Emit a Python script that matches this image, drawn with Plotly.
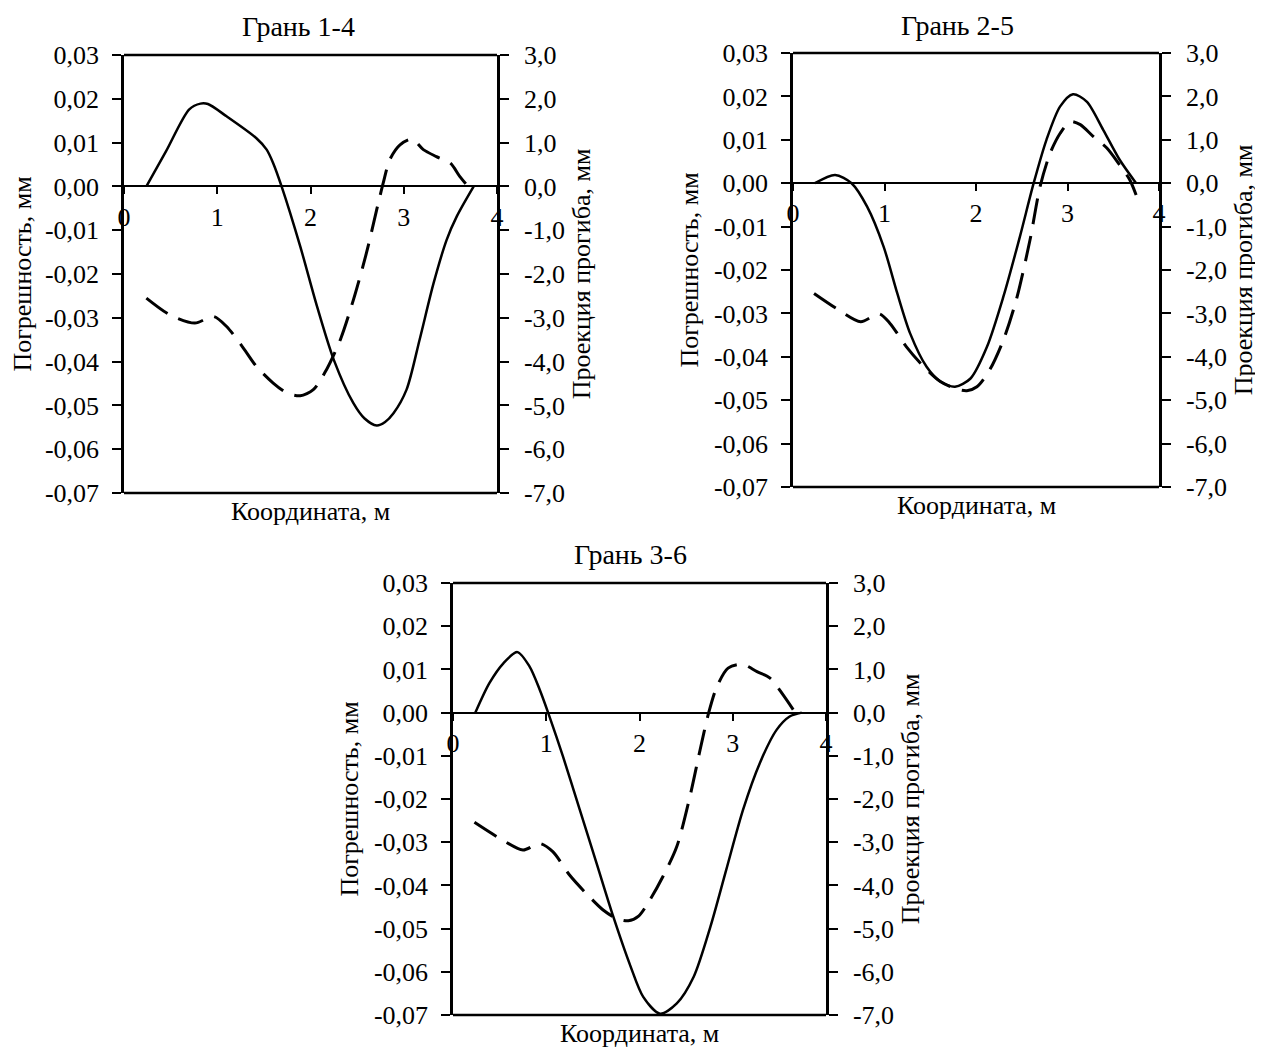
import plotly.graph_objects as go

# ---------------- data ----------------
panel_titles = ["Грань 1-4", "Грань 2-5", "Грань 3-6"]
x_title = "Координата, м"
y_left_title = "Погрешность, мм"
y_right_title = "Проекция прогиба, мм"

x_ticks = [0, 1, 2, 3, 4]
left_tickvals = [0.03, 0.02, 0.01, 0.0, -0.01, -0.02, -0.03, -0.04, -0.05, -0.06, -0.07]
left_ticktext = ["0,03", "0,02", "0,01", "0,00", "-0,01", "-0,02", "-0,03", "-0,04", "-0,05", "-0,06", "-0,07"]
right_tickvals = [3, 2, 1, 0, -1, -2, -3, -4, -5, -6, -7]
right_ticktext = ["3,0", "2,0", "1,0", "0,0", "-1,0", "-2,0", "-3,0", "-4,0", "-5,0", "-6,0", "-7,0"]

# Panel 1 (Грань 1-4)
p1_err_x = [0.24, 0.45, 0.70, 0.82, 0.90, 1.10, 1.42, 1.53, 1.60, 1.69, 1.89, 2.07, 2.25, 2.46, 2.58, 2.71, 2.80, 2.89, 3.03, 3.17, 3.32, 3.46, 3.57, 3.75]
p1_err_y = [0.0, 0.0080, 0.0176, 0.0189, 0.0188, 0.0160, 0.0110, 0.0084, 0.0053, 0.0, -0.0137, -0.0274, -0.0396, -0.0495, -0.0530, -0.0546, -0.0538, -0.0518, -0.0464, -0.0350, -0.0221, -0.0122, -0.0068, 0.0]
p1_defl_x = [0.24, 0.49, 0.76, 0.96, 1.10, 1.28, 1.42, 1.60, 1.75, 1.89, 2.03, 2.17, 2.32, 2.46, 2.60, 2.71, 2.78, 2.85, 2.96, 3.09, 3.21, 3.35, 3.50, 3.60, 3.69]
p1_defl_y = [-2.55, -2.93, -3.12, -2.97, -3.20, -3.69, -4.11, -4.49, -4.72, -4.78, -4.64, -4.19, -3.50, -2.59, -1.52, -0.53, 0.08, 0.61, 0.95, 1.08, 0.84, 0.68, 0.53, 0.23, 0.0]

# Panel 2 (Грань 2-5)
p2_err_x = [0.24, 0.46, 0.64, 0.81, 0.99, 1.14, 1.28, 1.46, 1.61, 1.77, 1.94, 2.12, 2.30, 2.48, 2.63, 2.77, 2.92, 3.06, 3.21, 3.39, 3.57, 3.75]
p2_err_y = [0.0, 0.0019, 0.0, -0.0054, -0.0146, -0.0254, -0.0346, -0.0423, -0.0457, -0.0469, -0.0450, -0.0377, -0.0261, -0.0123, 0.0, 0.0100, 0.0177, 0.0205, 0.0188, 0.0123, 0.0054, 0.0]
p2_defl_x = [0.23, 0.50, 0.74, 0.94, 1.06, 1.24, 1.43, 1.61, 1.77, 1.90, 2.01, 2.15, 2.30, 2.44, 2.59, 2.70, 2.81, 2.92, 3.03, 3.14, 3.28, 3.43, 3.57, 3.68, 3.75]
p2_defl_y = [-2.54, -2.92, -3.19, -3.01, -3.23, -3.77, -4.23, -4.57, -4.73, -4.78, -4.69, -4.30, -3.61, -2.69, -1.31, -0.08, 0.69, 1.15, 1.42, 1.35, 1.08, 0.81, 0.42, 0.08, -0.27]

# Panel 3 (Грань 3-6)
p3_err_x = [0.24, 0.39, 0.54, 0.69, 0.82, 0.93, 1.02, 1.18, 1.36, 1.54, 1.72, 1.90, 2.04, 2.22, 2.40, 2.58, 2.76, 2.93, 3.11, 3.29, 3.47, 3.61, 3.74]
p3_err_y = [0.0, 0.0068, 0.0114, 0.0140, 0.0107, 0.0053, 0.0, -0.0102, -0.0225, -0.0349, -0.0473, -0.0585, -0.0658, -0.0697, -0.0673, -0.0612, -0.0496, -0.0364, -0.0225, -0.0117, -0.0040, -0.0009, 0.0]
p3_defl_x = [0.23, 0.50, 0.75, 0.93, 1.07, 1.25, 1.43, 1.61, 1.75, 1.88, 1.99, 2.11, 2.25, 2.40, 2.54, 2.65, 2.74, 2.83, 2.95, 3.10, 3.26, 3.40, 3.54, 3.67]
p3_defl_y = [-2.54, -2.91, -3.18, -3.03, -3.22, -3.76, -4.19, -4.57, -4.76, -4.82, -4.71, -4.34, -3.80, -3.10, -1.95, -0.86, -0.02, 0.60, 1.03, 1.12, 0.95, 0.80, 0.41, 0.0]

# ---------------- layout geometry (pixels) ----------------
OFF = 8  # page body margin of the exported html
W, H = 1263 - OFF, 1050 - OFF
# (left, right, top, bottom) of each plotting box, in page pixels
boxes = [(124, 497, 55, 493), (793, 1159, 53, 487), (453, 826, 583, 1015)]
title_pos = [(298, 26), (957, 25), (630, 554)]

FONT = "Liberation Serif, Times New Roman, serif"
TICK_SIZE = 26
LABEL_SIZE = 26
TITLE_SIZE = 28

series = [
    (p1_err_x, p1_err_y, p1_defl_x, p1_defl_y),
    (p2_err_x, p2_err_y, p2_defl_x, p2_defl_y),
    (p3_err_x, p3_err_y, p3_defl_x, p3_defl_y),
]

fig = go.Figure()
layout = dict(
    template="none",
    width=W, height=H,
    margin=dict(l=0, r=0, t=0, b=0, pad=0, autoexpand=False),
    paper_bgcolor="white", plot_bgcolor="white",
    showlegend=False,
    font=dict(family=FONT, color="black", size=TICK_SIZE),
)
annotations = []
shapes = []

for i, (box, (ex, ey, dx, dy)) in enumerate(zip(boxes, series)):
    l, r, t, b = [v - OFF for v in box]
    xd = [l / W, r / W]
    yd = [1 - b / H, 1 - t / H]
    xname = "x" if i == 0 else f"x{i + 1}"
    yl = f"y{2 * i + 1}" if i > 0 else "y"
    yr = f"y{2 * i + 2}"
    xkey = "xaxis" if i == 0 else f"xaxis{i + 1}"
    ylkey = "yaxis" if i == 0 else f"yaxis{2 * i + 1}"
    yrkey = f"yaxis{2 * i + 2}"

    # paper position of the zero level, where the x axis sits
    zero_pos = yd[0] + (0 - (-0.07)) / 0.10 * (yd[1] - yd[0])

    fig.add_trace(go.Scatter(x=ex, y=ey, xaxis=xname, yaxis=yl, mode="lines",
                             line=dict(color="black", width=2.5, shape="spline", smoothing=0.8),
                             hoverinfo="skip"))
    fig.add_trace(go.Scatter(x=dx, y=dy, xaxis=xname, yaxis=yr, mode="lines",
                             line=dict(color="black", width=3, dash="26px,12px", shape="spline", smoothing=0.8),
                             hoverinfo="skip"))

    layout[xkey] = dict(
        domain=xd, range=[0, 4], anchor="free", position=zero_pos, automargin=False,
        tickmode="array", tickvals=x_ticks, ticktext=[str(v) for v in x_ticks],
        ticks="outside", ticklen=7, tickwidth=2, tickcolor="black",
        showline=True, linecolor="black", linewidth=2,
        showgrid=False, zeroline=False,
        tickfont=dict(family=FONT, size=TICK_SIZE, color="black"),
    )
    layout[ylkey] = dict(
        domain=yd, range=[-0.07, 0.03], anchor=xname, side="left", automargin=False,
        tickmode="array", tickvals=left_tickvals, ticktext=left_ticktext,
        ticks="outside", ticklen=9, tickwidth=2, tickcolor="black",
        showline=True, linecolor="black", linewidth=2.5,
        showgrid=False, zeroline=False, ticklabelstandoff=8,
        tickfont=dict(family=FONT, size=TICK_SIZE, color="black"),
        title=dict(text=y_left_title, font=dict(family=FONT, size=LABEL_SIZE, color="black"), standoff=8),
    )
    layout[yrkey] = dict(
        domain=yd, range=[-7, 3], anchor=xname, side="right", overlaying=yl, automargin=False,
        tickmode="array", tickvals=right_tickvals, ticktext=right_ticktext,
        ticks="outside", ticklen=9, tickwidth=2, tickcolor="black",
        showline=True, linecolor="black", linewidth=2.5,
        showgrid=False, zeroline=False, ticklabelstandoff=10,
        tickfont=dict(family=FONT, size=TICK_SIZE, color="black"),
        title=dict(text=y_right_title, font=dict(family=FONT, size=LABEL_SIZE, color="black"), standoff=8),
    )

    # top and bottom frame lines
    for yy in (0, 1):
        shapes.append(dict(type="line", xref=f"{xname} domain", yref=f"{yl} domain",
                           x0=0, x1=1, y0=yy, y1=yy, line=dict(color="black", width=2.5)))

    # x-axis title below the box
    annotations.append(dict(text=x_title, xref=f"{xname} domain", yref=f"{yl} domain",
                            x=0.5, y=0, yanchor="top", yshift=-2, showarrow=False,
                            font=dict(family=FONT, size=LABEL_SIZE, color="black")))
    # panel title
    tx, ty = title_pos[i]
    annotations.append(dict(text=panel_titles[i], xref="paper", yref="paper",
                            x=(tx - OFF) / W, y=1 - (ty - OFF) / H, xanchor="center", yanchor="middle",
                            showarrow=False, font=dict(family=FONT, size=TITLE_SIZE, color="black")))

layout["annotations"] = annotations
layout["shapes"] = shapes
fig.update_layout(**layout)

fig.write_html("out.html")
